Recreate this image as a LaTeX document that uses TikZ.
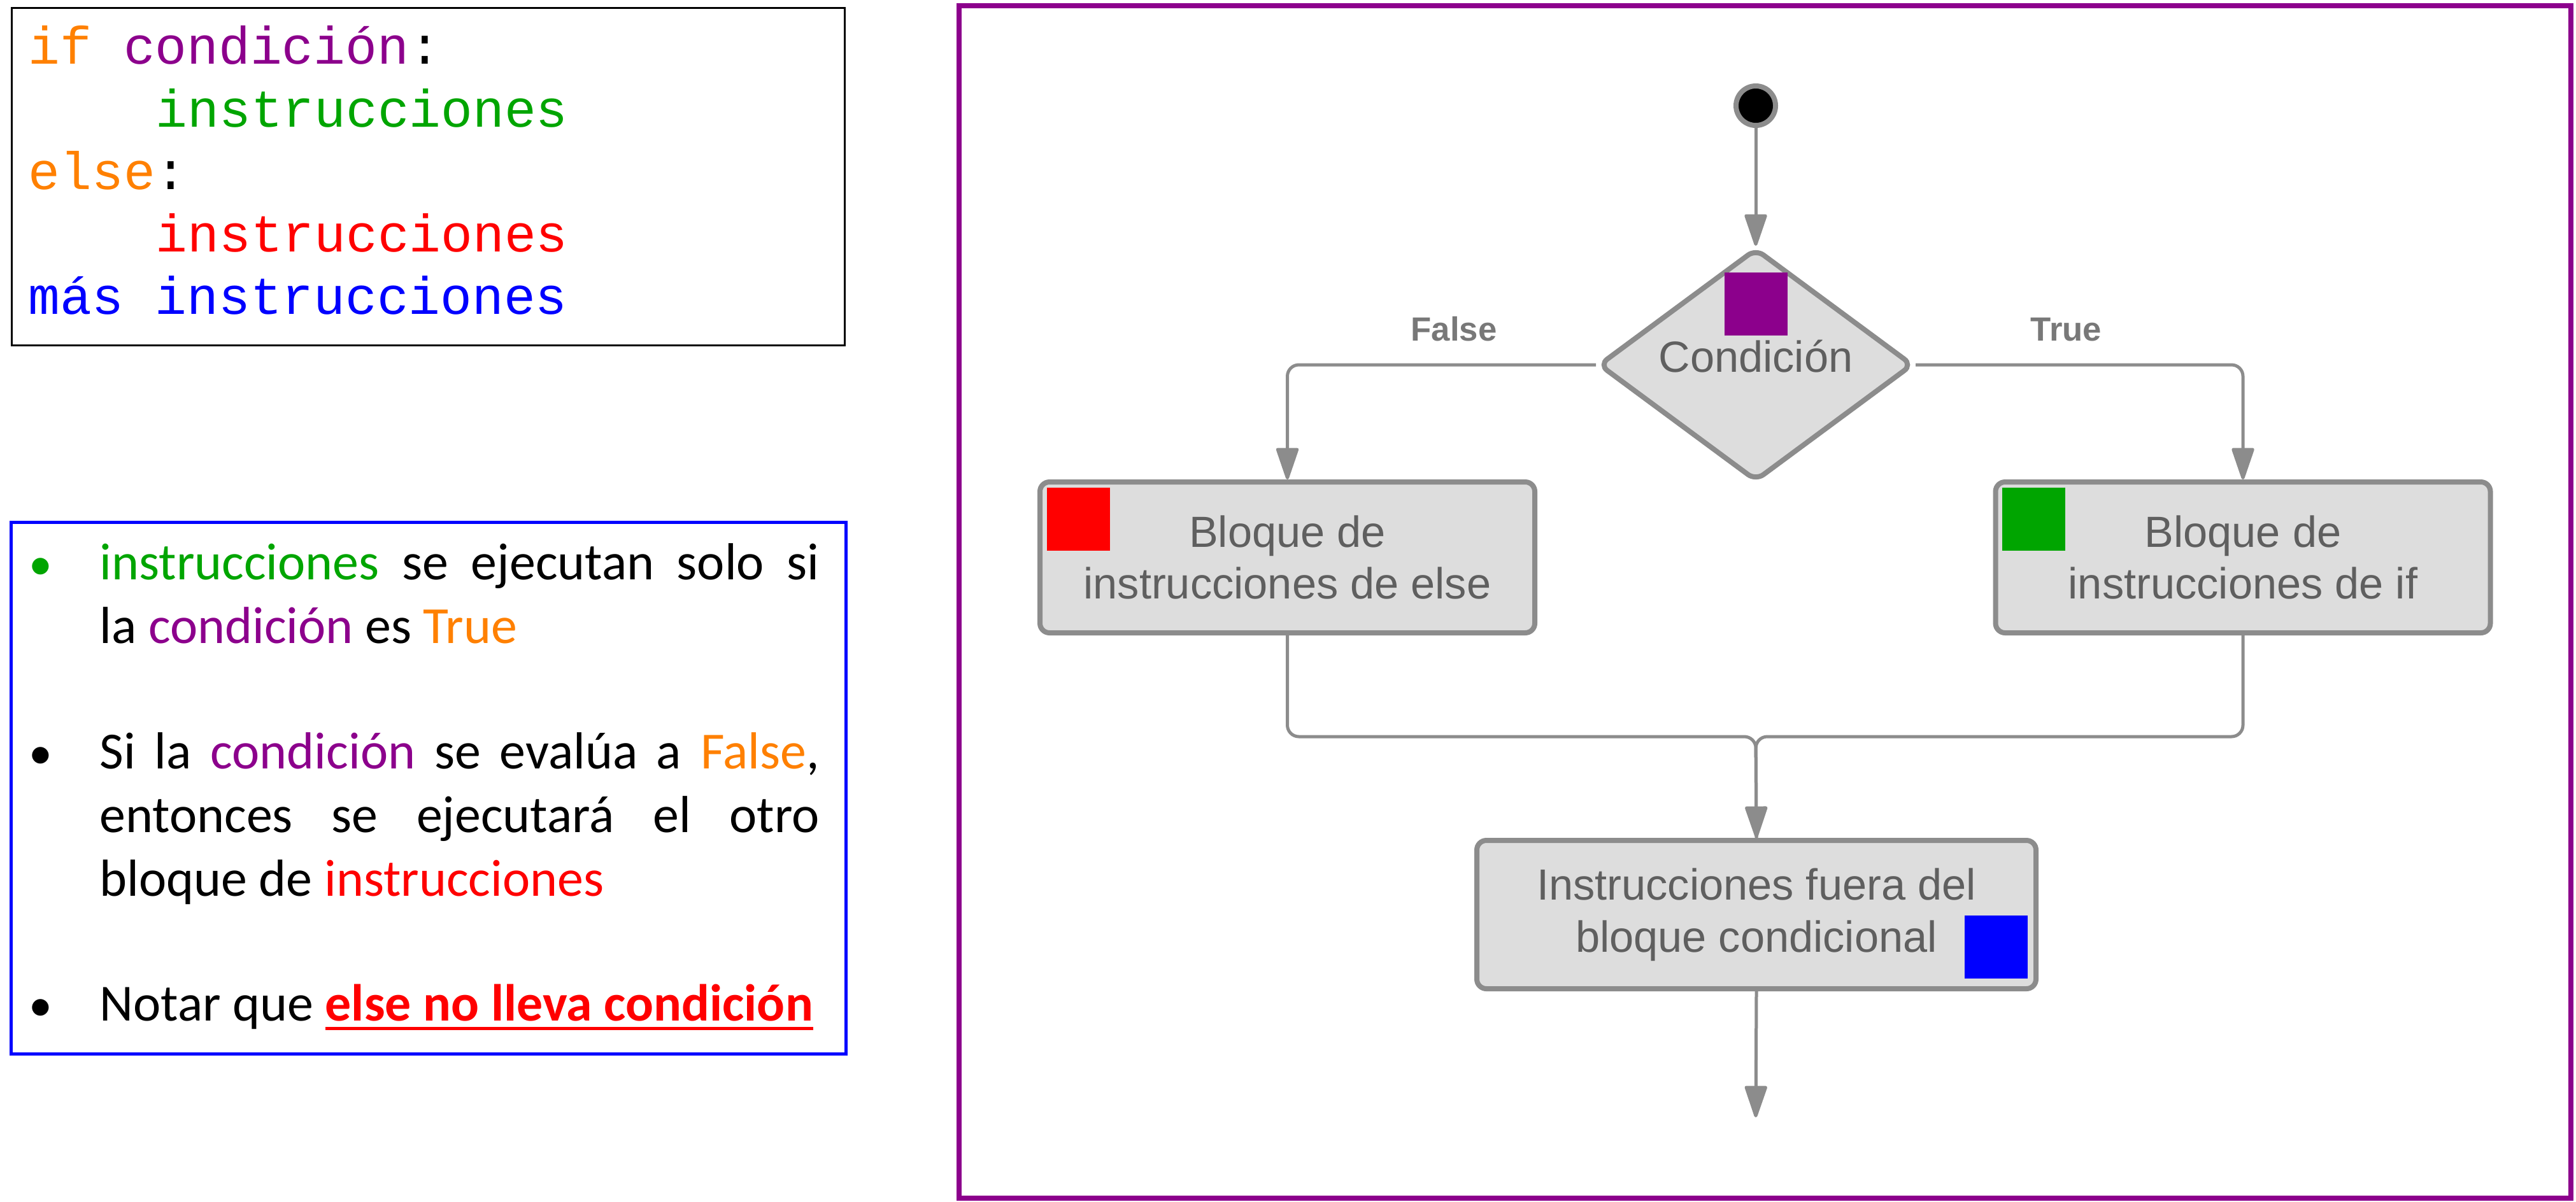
\documentclass[tikz,border=0pt]{standalone}
\usepackage{fontspec}
\setmainfont{Carlito}
\newfontfamily\flowfont{Liberation Sans}
\newfontfamily\codefont{Liberation Mono}
\usetikzlibrary{positioning, arrows.meta, shapes.geometric}

\definecolor{kwOrange}{RGB}{255,128,0}
\definecolor{condPurple}{RGB}{140,0,140}
\definecolor{ifGreen}{RGB}{0,165,0}
\definecolor{elseRed}{RGB}{255,0,0}
\definecolor{afterBlue}{RGB}{0,0,255}
\definecolor{flowGray}{RGB}{140,140,140}
\definecolor{flowFill}{RGB}{221,221,221}
\definecolor{flowText}{RGB}{95,95,95}
\definecolor{flowLabel}{RGB}{120,120,120}

% thick underline for the last note
\newsavebox{\ulbox}
\newcommand{\thickunder}[1]{\sbox{\ulbox}{#1}\rlap{\usebox{\ulbox}}\rule[-0.145cm]{\wd\ulbox}{0.05cm}}

\tikzset{
	codeline/.style={anchor=base west, inner sep=0, font=\codefont\fontsize{23.6}{28}\selectfont},
	dot/.style={anchor=base, inner sep=0, font=\fontsize{21}{28.45}\selectfont},
	infotext/.style={anchor=base west, inner sep=0, text width=11.3cm, align=justify, font=\fontsize{23.3}{28.45}\selectfont},
	startdot/.style={circle, fill=black, draw=flowGray, line width=0.08cm, minimum size=0.62cm, inner sep=0},
	block/.style={draw=flowGray, fill=flowFill, line width=0.08cm, rounded corners=0.15cm, align=center, text=flowText, inner sep=0, font=\flowfont\fontsize{19.5}{23.3}\selectfont},
	decision/.style={diamond, aspect=1.35, draw=flowGray, fill=flowFill, line width=0.08cm, rounded corners=0.15cm, minimum width=4.94cm, minimum height=3.66cm, inner sep=0, text=flowText, text height=0.72cm, text depth=0.5cm, font=\flowfont\fontsize{19.5}{23.3}\selectfont},
	tag/.style={minimum size=0.99cm, inner sep=0},
	flow/.style={draw=flowGray, line width=0.05cm, rounded corners=0.18cm},
	branch/.style={above=0.35cm, inner sep=0, text=flowLabel, font=\flowfont\bfseries\fontsize{15}{18}\selectfont}
}

\begin{document}
\begin{tikzpicture}[>={Triangle[width=0.36cm, length=0.55cm, round=false]}]
	\useasboundingbox (0,0) rectangle (40.45,-18.87);

	% code box %
	\node[draw, line width=0.03cm, minimum width=13.08cm, minimum height=5.30cm, anchor=north west] (codebox) at (0.17,-0.11) {};
	\node[codeline] (c1) at (0.44,-1.00) {\textcolor{kwOrange}{if} \textcolor{condPurple}{condición}:};
	\node[codeline, text=ifGreen] (c2) at (2.44,-1.99) {instrucciones};
	\node[codeline] (c3) at (0.44,-2.97) {\textcolor{kwOrange}{else}:};
	\node[codeline, text=elseRed] (c4) at (2.44,-3.95) {instrucciones};
	\node[codeline, text=afterBlue] (c5) at (0.44,-4.93) {más instrucciones};

	% notes box %
	\node[draw=afterBlue, line width=0.05cm, minimum width=13.11cm, minimum height=8.35cm, anchor=north west] (infobox) at (0.15,-8.18) {};
	\node[dot, text=ifGreen] (b1) at (0.64,-9.10) {\textbullet};
	\node[dot] (b2) at (0.64,-12.07) {\textbullet};
	\node[dot] (b3) at (0.64,-16.03) {\textbullet};
	\node[infotext] (t1) at (1.56,-9.10) {\textcolor{ifGreen}{instrucciones} se ejecutan solo si\linebreak la \textcolor{condPurple}{condición} es \textcolor{kwOrange}{True}};
	\node[infotext] (t2) at (1.56,-12.07) {Si la \textcolor{condPurple}{condición} se evalúa a \textcolor{kwOrange}{False},\linebreak entonces se ejecutará el otro\linebreak bloque de \textcolor{elseRed}{instrucciones}};
	\node[infotext] (t3) at (1.56,-16.03) {Notar que {\color{elseRed}\bfseries\thickunder{else no lleva condición}}};

	% flowchart %
	\node[draw=condPurple, line width=0.08cm, minimum width=25.31cm, minimum height=18.73cm, anchor=north west] (frame) at (15.02,-0.05) {};
	\node[startdot] (start) at (27.57,-1.66) {};
	\node[decision] (cond) at (27.57,-5.73) {Condición};
	\node[block, minimum width=7.77cm, minimum height=2.37cm] (elseblk) at (20.215,-8.755) {Bloque de\\instrucciones de else};
	\node[block, minimum width=7.77cm, minimum height=2.37cm] (ifblk) at (35.22,-8.755) {Bloque de\\instrucciones de if};
	\node[block, minimum width=8.78cm, minimum height=2.33cm] (after) at (27.58,-14.365) {Instrucciones fuera del\\bloque condicional};
	\coordinate (join) at (27.57,-11.57);
	\coordinate (fin) at (27.57,-17.55);

	% colour tags %
	\node[tag, fill=condPurple, above=0.45cm of cond.center] (condtag) {};
	\node[tag, fill=elseRed, below right=0.12cm and 0.14cm of elseblk.north west] (elsetag) {};
	\node[tag, fill=ifGreen, below right=0.12cm and 0.14cm of ifblk.north west] (iftag) {};
	\node[tag, fill=afterBlue, above left=0.19cm and 0.16cm of after.south east] (aftertag) {};

	% edges %
	\draw[flow, ->] (start) -- (cond);
	\draw[flow, ->] (cond.west) -| node[branch, pos=0.23] {False} (elseblk.north);
	\draw[flow, ->] (cond.east) -| node[branch, pos=0.23] {True} (ifblk.north);
	\draw[flow] (ifblk.south) |- (join) -- (after.north);
	\draw[flow, ->] (elseblk.south) |- (join) -- (after.north);
	\draw[flow, ->] (after.south) -- (fin);

\end{tikzpicture}
\end{document}
